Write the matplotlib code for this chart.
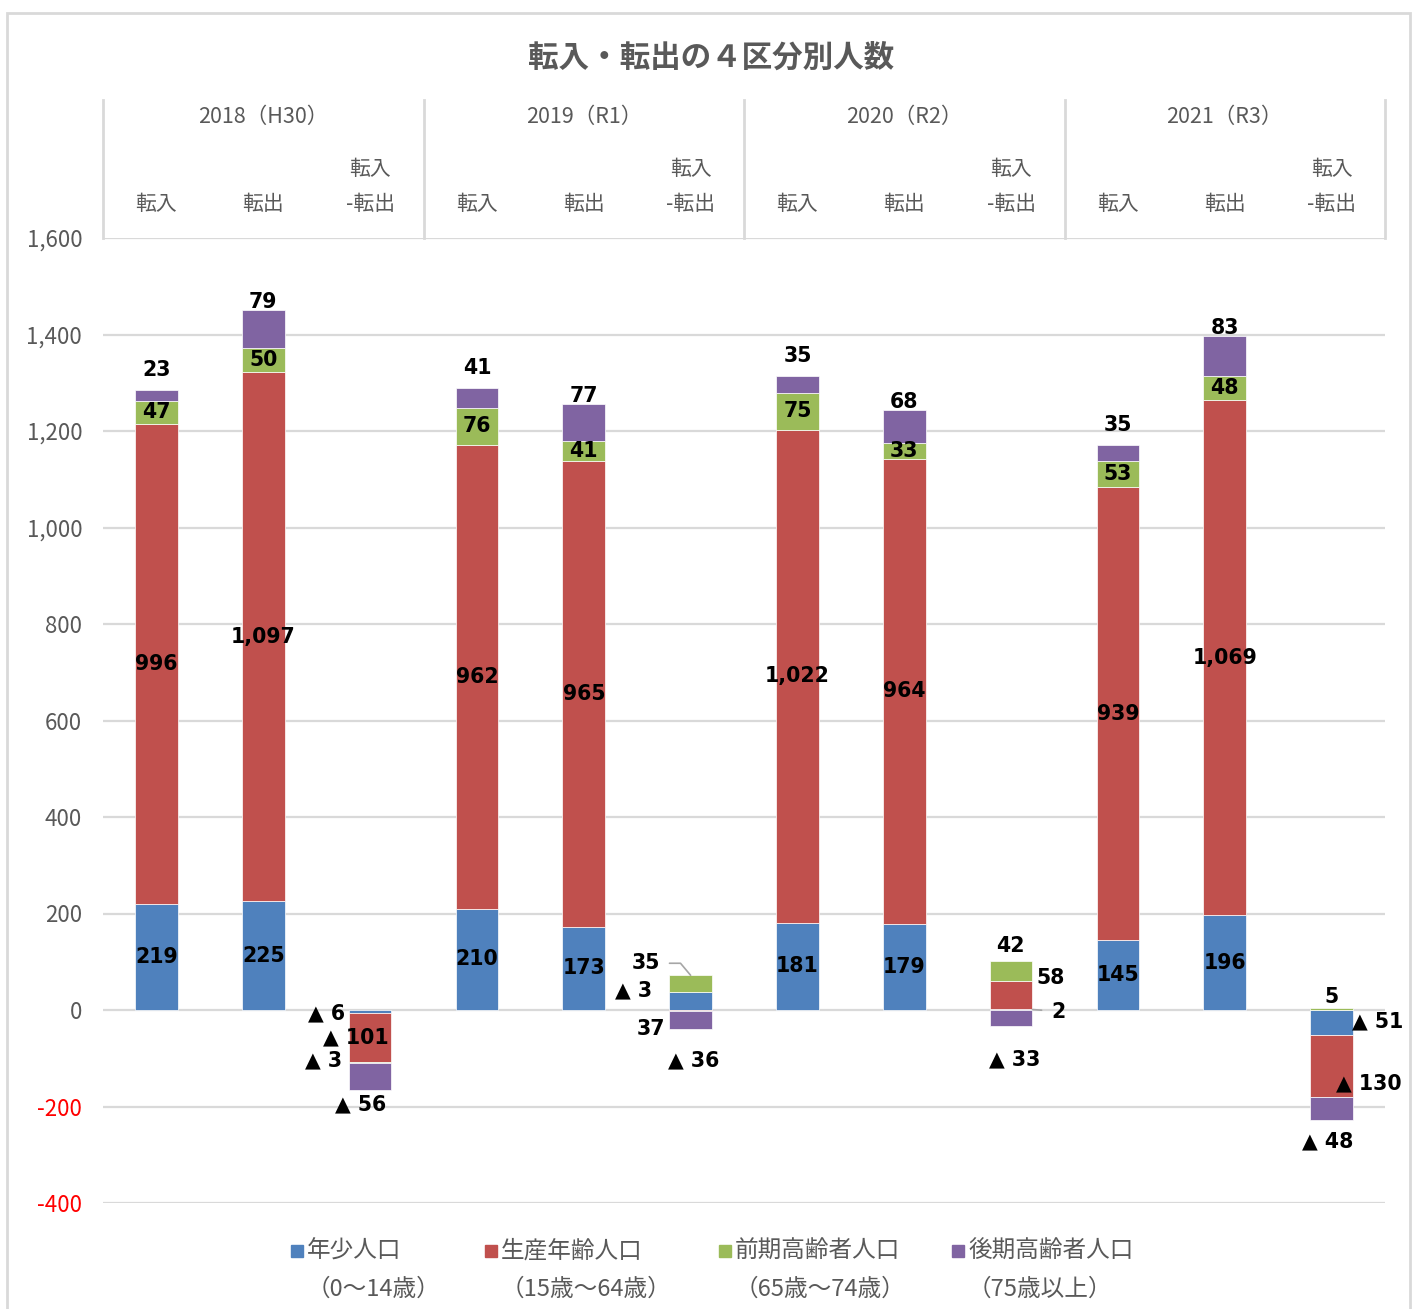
import numpy as np
import matplotlib.pyplot as plt
from matplotlib.patches import Rectangle

plt.rcParams['font.family'] = ['Noto Sans CJK JP', 'DejaVu Sans']

### Data ###
years = ['2018（H30）', '2019（R1）', '2020（R2）', '2021（R3）']
kinds = ['転入', '転出', '転入\n-転出']

series_names = ['年少人口', '生産年齢人口', '前期高齢者人口', '後期高齢者人口']
series_ages = ['（0～14歳）', '（15歳～64歳）', '（65歳～74歳）', '（75歳以上）']
colors = ['#4F81BD', '#C0504D', '#9BBB59', '#8064A2']

young = [219, 225, -6, 210, 173, 37, 181, 179, 2, 145, 196, -51]
working = [996, 1097, -101, 962, 965, -3, 1022, 964, 58, 939, 1069, -130]
early = [47, 50, -3, 76, 41, 35, 75, 33, 42, 53, 48, 5]
late = [23, 79, -56, 41, 77, -36, 35, 68, -33, 35, 83, -48]
values = [young, working, early, late]

yticks = [-400, -200, 0, 200, 400, 600, 800, 1000, 1200, 1400, 1600]

# manual label offsets (pixels) for the net bars: (column, series) -> (dx, dy)
net_offsets = {
    (2, 0): (-44, -2), (2, 1): (-14, 0), (2, 2): (-47, 2), (2, 3): (-9, -28),
    (5, 0): (-40, -28), (5, 1): (-57, 20), (5, 2): (-45, 12), (5, 3): (3, -40),
    (8, 0): (26, -2), (8, 1): (40, 17), (8, 2): (-1, 25), (8, 3): (4, -41),
    (11, 0): (46, 1), (11, 1): (37, -17), (11, 2): (0, 12), (11, 3): (-4, -33),
}
leaders = {(5, 2), (8, 0)}

gray = '#595959'
grid = '#D9D9D9'

fig = plt.figure(figsize=(14.22, 13.09), dpi=100)
ax = fig.add_axes([103 / 1422, 106 / 1309, 1282 / 1422, 965 / 1309])

x = np.arange(len(young))
width = 0.4
pos_bottom = np.zeros(len(x))
neg_bottom = np.zeros(len(x))

def fmt(v):
    return f'{v:,}' if v >= 0 else f'▲ {abs(v):,}'

label_font = dict(family='DejaVu Sans', fontweight='bold', fontsize=14.8, color='black')

for s, (vals, c) in enumerate(zip(values, colors)):
    vals = np.array(vals)
    bottom = np.where(vals >= 0, pos_bottom, neg_bottom)
    ax.bar(x, vals, width, bottom=bottom, color=c, edgecolor='white', linewidth=0.5, zorder=3)
    for i in x:
        v = vals[i]
        mid = bottom[i] + v / 2
        if i % 3 == 2:
            dx, dy = net_offsets[(i, s)]
            if (i, s) in leaders:
                if v > 0 and s == 2:
                    tip = (i, bottom[i] + v)
                    conn = 'angle,angleA=0,angleB=130,rad=0'
                else:
                    tip = (i + width / 2, mid)
                    conn = 'arc3'
                ax.annotate(fmt(v), xy=tip, xytext=(dx, dy), textcoords='offset pixels',
                            ha='center', va='center', zorder=5,
                            arrowprops=dict(arrowstyle='-', color='#A6A6A6', lw=1.2,
                                            shrinkA=5, shrinkB=0, connectionstyle=conn),
                            **label_font)
            else:
                ax.annotate(fmt(v), xy=(i, mid), xytext=(dx, dy), textcoords='offset pixels',
                            ha='center', va='center', zorder=5, **label_font)
        elif s == 3:
            top = bottom[i] + v
            off = 20 if i % 3 == 0 else 8
            ax.annotate(fmt(v), xy=(i, top), xytext=(0, off), textcoords='offset pixels',
                        ha='center', va='center', zorder=5, **label_font)
        else:
            ax.text(i, mid, fmt(v), ha='center', va='center', zorder=5, **label_font)
    pos_bottom = pos_bottom + np.where(vals >= 0, vals, 0)
    neg_bottom = neg_bottom + np.where(vals < 0, vals, 0)

ax.set_xlim(-0.5, len(x) - 0.5)
ax.set_ylim(-400, 1600)
ax.set_yticks(yticks)
ax.set_yticklabels([f'{t:,}' for t in yticks], fontsize=16)
for t, lab in zip(yticks, ax.get_yticklabels()):
    lab.set_color('#FF0000' if t < 0 else gray)
ax.tick_params(axis='y', length=0, pad=15)
ax.set_xticks([])
ax.yaxis.grid(True, color=grid, linewidth=1.6, zorder=0)
ax.set_axisbelow(True)
for sp in ax.spines.values():
    sp.set_visible(False)

# category header on top
tr = ax.get_xaxis_transform()
for b in [-0.5, 2.5, 5.5, 8.5, 11.5]:
    ax.plot([b, b], [1.0, 1.143], transform=tr, color=grid, lw=2, clip_on=False)
for g, yr in enumerate(years):
    ax.text(g * 3 + 1, 1.125, yr, transform=tr, ha='center', va='center', fontsize=15.5, color=gray)
    for k, kind in enumerate(kinds):
        if '\n' in kind:
            top_line, bot_line = kind.split('\n')
            ax.text(g * 3 + k, 1.0715, top_line, transform=tr, ha='center', va='center', fontsize=15, color=gray)
            ax.text(g * 3 + k, 1.035, bot_line, transform=tr, ha='center', va='center', fontsize=15, color=gray)
        else:
            ax.text(g * 3 + k, 1.035, kind, transform=tr, ha='center', va='center', fontsize=15, color=gray)

# title
fig.text(0.5, 1 - 58 / 1309, '転入・転出の４区分別人数', ha='center', va='center',
         fontsize=22, fontweight='bold', color=gray)

# legend
leg_x = [297, 491, 725, 958]
for lx, name, age, c in zip(leg_x, series_names, series_ages, colors):
    fig.patches.append(Rectangle(((lx - 6) / 1422, 1 - 1257 / 1309), 12 / 1422, 12 / 1309,
                                 transform=fig.transFigure, color=c))
    fig.text((lx + 10) / 1422, 1 - 1251 / 1309, name, ha='left', va='center', fontsize=17, color=gray)
    fig.text((lx + 10) / 1422, 1 - 1289 / 1309, age, ha='left', va='center', fontsize=17, color=gray)

# outer frame
fig.patches.append(Rectangle((7 / 1422, -0.01), 1403 / 1422, 1 - 13 / 1309 + 0.01,
                             transform=fig.transFigure, fill=False, edgecolor=grid, lw=2))

fig.savefig('out.png', dpi=100)
